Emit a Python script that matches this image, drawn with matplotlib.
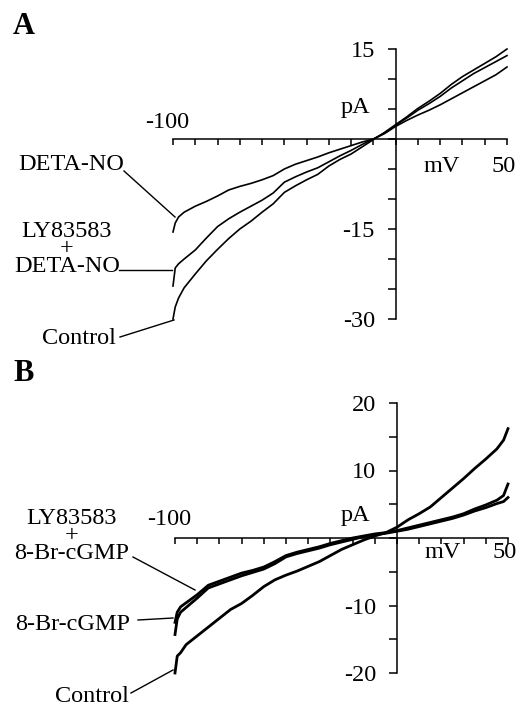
import numpy as np
import matplotlib
matplotlib.use("Agg")
import matplotlib.pyplot as plt
from matplotlib.lines import Line2D

plt.rcParams['font.family'] = ['Liberation Serif', 'DejaVu Serif']

W, H = 529, 707

# ---- Panel A data (mV, pA) ----
a_mv = [-100, -99, -97.5, -95, -90, -85, -80, -75, -70, -65, -60, -55, -50, -45, -40,
        -35, -30, -25, -20, -15, -10, -5, 0, 5, 10, 15, 20, 25, 30, 35, 40, 45, 50]
a_deta = [-15.5, -14.0, -13.0, -12.2, -11.2, -10.4, -9.5, -8.5, -7.9, -7.4, -6.8, -6.1, -5.0,
          -4.2, -3.6, -3.0, -2.3, -1.7, -1.1, -0.5, 0.0, 0.9, 2.1, 3.1, 4.0, 4.8, 5.7,
          6.7, 7.7, 8.7, 9.7, 10.7, 12.0]
a_ly_deta = [-24.5, -21.5, -20.8, -20.0, -18.5, -16.5, -14.6, -13.3, -12.2, -11.2, -10.2,
             -9.0, -7.2, -6.3, -5.5, -4.8, -3.8, -2.8, -1.9, -0.9, 0.0, 1.0, 2.3, 3.5,
             4.8, 5.9, 7.1, 8.5, 9.7, 10.9, 11.9, 12.9, 13.9]
a_control = [-30.0, -28.0, -26.5, -24.8, -22.5, -20.3, -18.4, -16.6, -15.0, -13.7, -12.2,
             -10.8, -8.9, -7.8, -6.8, -5.9, -4.5, -3.4, -2.5, -1.3, -0.1, 1.1, 2.4, 3.7,
             5.1, 6.3, 7.6, 9.1, 10.4, 11.5, 12.6, 13.7, 15.0]

# ---- Panel B data (mV, pA) ----
b_mv = [-100, -99, -97.5, -95, -90, -85, -80, -75, -70, -65, -60, -55, -50, -45, -40,
        -35, -30, -25, -20, -15, -10, -5, 0, 5, 10, 15, 20, 25, 30, 35, 40, 45, 48, 50]
b_control = [-20.0, -17.5, -17.0, -15.8, -14.5, -13.2, -11.9, -10.6, -9.7, -8.5, -7.2,
             -6.2, -5.5, -4.9, -4.2, -3.5, -2.6, -1.7, -1.0, -0.3, 0.3, 0.8, 1.6, 2.7,
             3.6, 4.6, 6.0, 7.4, 8.8, 10.3, 11.7, 13.2, 14.5, 16.2]
b_brcgmp = [-14.3, -12.0, -11.0, -10.3, -8.9, -7.4, -6.8, -6.2, -5.6, -5.1, -4.6, -3.8,
            -2.8, -2.3, -1.9, -1.5, -1.0, -0.6, -0.2, 0.2, 0.5, 0.7, 1.0, 1.3, 1.7,
            2.1, 2.5, 2.9, 3.4, 4.0, 4.5, 5.1, 5.4, 6.0]
b_ly_brcgmp = [-12.5, -11.0, -10.2, -9.6, -8.4, -7.0, -6.4, -5.8, -5.2, -4.8, -4.3, -3.5,
               -2.6, -2.1, -1.7, -1.3, -0.8, -0.4, 0.0, 0.3, 0.6, 0.8, 1.1, 1.5, 1.9,
               2.3, 2.7, 3.1, 3.6, 4.3, 4.9, 5.6, 6.3, 8.0]

a_yticks = [15, 10, 5, 0, -5, -10, -15, -20, -25, -30]
a_ylabels = ['15', '', '', '', '', '', '-15', '', '', '-30']
b_yticks = [20, 15, 10, 5, 0, -5, -10, -15, -20]
b_ylabels = ['20', '', '10', '', '', '', '-10', '', '-20']
xticks = list(range(-100, 51, 10))

FS = 17.5

fig = plt.figure(figsize=(W / 100, H / 100), dpi=100)


def fx(px):
    return px / W


def fy(py):
    return 1 - py / H


def setup(ax, ylim, yticks, ylabels, y_100, y_mv):
    ax.set_xlim(-100, 50)
    ax.set_ylim(*ylim)
    ax.patch.set_alpha(0)
    for s in ['top', 'right']:
        ax.spines[s].set_visible(False)
    ax.spines['left'].set_position(('data', 0))
    ax.spines['bottom'].set_position(('data', 0))
    ax.spines['left'].set_linewidth(1.1)
    ax.spines['bottom'].set_linewidth(1.1)
    ax.set_xticks(xticks)
    ax.set_xticklabels([])
    ax.set_yticks(yticks)
    ax.set_yticklabels(ylabels)
    ax.tick_params(axis='x', direction='out', length=4, width=1.1)
    ax.tick_params(axis='y', direction='out', length=6, width=1.1, labelsize=FS, pad=9)
    ax.text(-102.5, y_100, '-100', fontsize=FS, ha='center', va='center')
    ax.text(48.5, y_mv, '50', fontsize=FS, ha='center', va='center')
    ax.text(20.5, y_mv, 'mV', fontsize=FS, ha='center', va='center')


def label(text, px, py, ha='center'):
    fig.text(fx(px), fy(py), text, fontsize=FS, ha=ha, va='center',
             linespacing=0.78, multialignment='center')


def leader(x1, y1, x2, y2):
    fig.add_artist(Line2D([fx(x1), fx(x2)], [fy(y1), fy(y2)], color='black', lw=1.0,
                          transform=fig.transFigure))


# ---- Panel A ----
axA = fig.add_axes([fx(173), fy(319), fx(507) - fx(173), fy(49) - fy(319)])
setup(axA, (-30, 15), a_yticks, a_ylabels, 2.8, -4.5)
axA.text(-11.5, 5.2, 'pA', fontsize=FS, ha='right', va='center')
for ys in (a_deta, a_ly_deta, a_control):
    axA.plot(a_mv, ys, color='black', lw=1.2, clip_on=False)

label('DETA-NO', 71, 165)
leader(124, 171, 175, 217)
label('LY83583\n+\nDETA-NO', 67, 249)
leader(119, 270, 172, 270)
label('Control', 79, 339)
leader(120, 337, 174, 320)
fig.text(fx(13), fy(26), 'A', fontsize=22, fontweight='bold', ha='left', va='center')

# ---- Panel B ----
axB = fig.add_axes([fx(175), fy(673), fx(508) - fx(175), fy(403) - fy(673)])
setup(axB, (-20, 20), b_yticks, b_ylabels, 2.7, -2.2)
axB.text(-12.0, 3.4, 'pA', fontsize=FS, ha='right', va='center')
for ys in (b_brcgmp, b_ly_brcgmp, b_control):
    axB.plot(b_mv, ys, color='black', lw=2.0, clip_on=False)

label('LY83583\n+\n8-Br-cGMP', 72, 536)
leader(133, 557, 195, 590)
label('8-Br-cGMP', 73, 624)
leader(138, 620, 173, 618)
label('Control', 92, 697)
leader(131, 693, 173, 670)
fig.text(fx(13), fy(374), 'B', fontsize=22, fontweight='bold', ha='left', va='center')

fig.savefig('out.png', dpi=100)
